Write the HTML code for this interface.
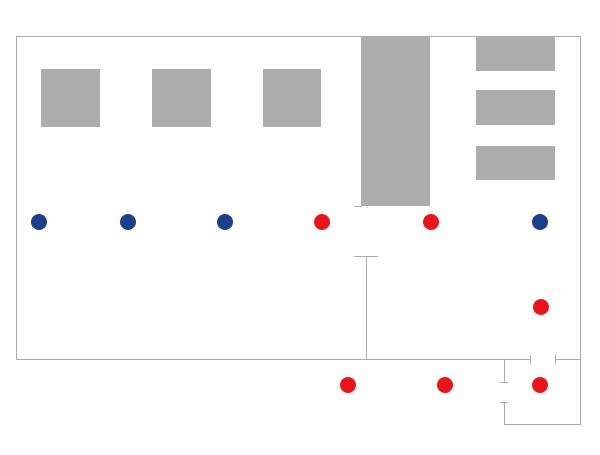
<!DOCTYPE html><html><head><style>body{margin:0;background:#fff}</style></head><body>
<svg width="600" height="450" xmlns="http://www.w3.org/2000/svg">
<g stroke="#aaa" stroke-width="1" fill="none">
<path d="M16.5 359.5V36.5H580.5V424.5H504.5V402.5"/>
<path d="M16 359.5H530M555 359.5H580"/>
<path d="M530.5 355V364M555.5 355V364"/>
<path d="M504.5 359V382M500 382.5H508M500 402.5H508"/>
<path d="M366.5 256V359M354 256.5H378M354 206.5H362"/>
</g>
<g fill="#adadad">
<rect x="41" y="69" width="59" height="58"/>
<rect x="152" y="69" width="59" height="58"/>
<rect x="263" y="69" width="58" height="58"/>
<rect x="361" y="36" width="69" height="170"/>
<rect x="476" y="36" width="79" height="35"/>
<rect x="476" y="90" width="79" height="35"/>
<rect x="476" y="146" width="79" height="34"/>
</g>
<g fill="#1b3f8a">
<circle cx="39" cy="222" r="8"/><circle cx="128" cy="222" r="8"/><circle cx="225" cy="222" r="8"/><circle cx="540" cy="222" r="8"/>
</g>
<g fill="#e8161b">
<circle cx="322" cy="222" r="8"/><circle cx="431" cy="222" r="8"/><circle cx="541" cy="307" r="8"/>
<circle cx="348" cy="385" r="8"/><circle cx="445" cy="385" r="8"/><circle cx="540" cy="385" r="8"/>
</g>
</svg>
</body></html>
